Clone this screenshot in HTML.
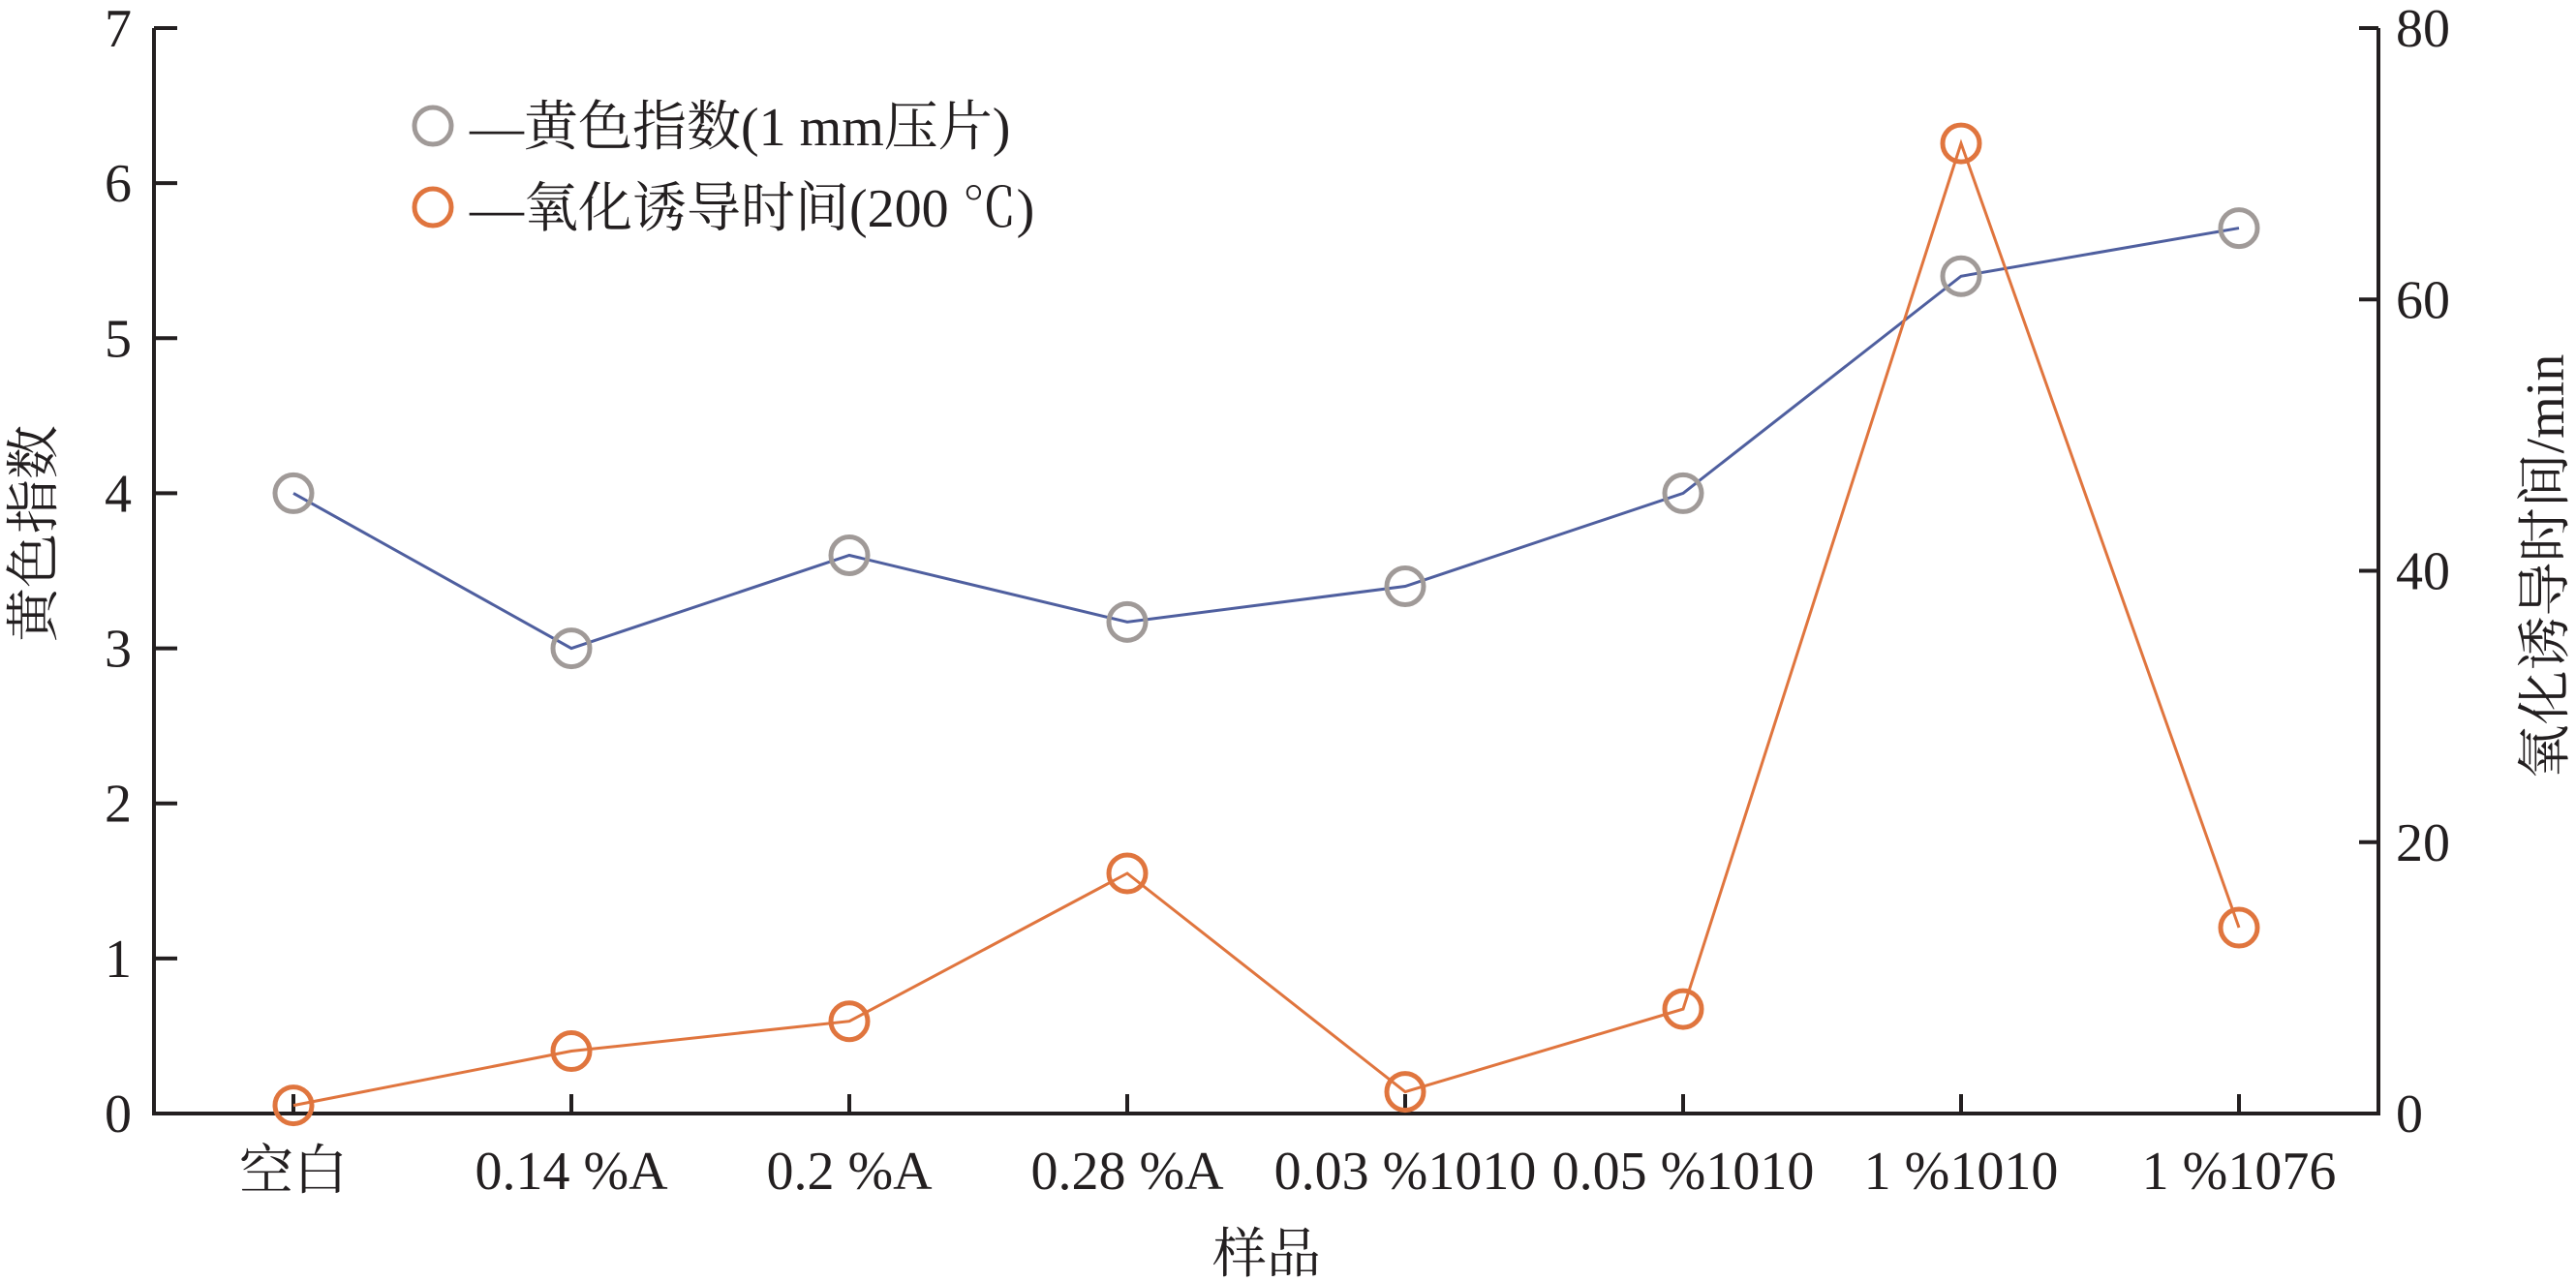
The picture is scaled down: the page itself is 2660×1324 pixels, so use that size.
<!DOCTYPE html>
<html><head><meta charset="utf-8"><style>
html,body{margin:0;padding:0;background:#fff}
svg{display:block}
text{font-family:"Liberation Serif","Noto Serif CJK SC","Noto Sans CJK SC",serif;fill:#231f20}
</style></head><body>
<svg id="chart" width="2660" height="1324" viewBox="0 0 2660 1324" xmlns="http://www.w3.org/2000/svg"></svg>
<script>
const categories=["空白","0.14 %A","0.2 %A","0.28 %A","0.03 %1010","0.05 %1010","1 %1010","1 %1076"];
const yellowIndex=[4.0,3.0,3.6,3.17,3.4,4.0,5.4,5.71];
const oitValues=[0.6,4.6,6.8,17.7,1.6,7.7,71.5,13.7];
const leftTicks=[0,1,2,3,4,5,6,7];
const rightTicks=[0,20,40,60,80];

const NS="http://www.w3.org/2000/svg";
const svg=document.getElementById('chart');
const L=159,R=2456,T=29,B=1150;
const x0=303,dx=287;
function xs(i){return x0+i*dx;}
function yl(v){return B-(v/7)*(B-T);}
function yr(v){return B-(v/80)*(B-T);}
function mk(tag,attrs,parent){const e=document.createElementNS(NS,tag);for(const k in attrs)e.setAttribute(k,attrs[k]);(parent||svg).appendChild(e);return e;}

// axes
let e=mk('path',{d:`M${L},${T} V${B} H${R} V${T}`,fill:'none',stroke:'#231f20','stroke-width':4});


leftTicks.forEach(v=>{
  const y=yl(v);
  let t=mk('line',{x1:L,x2:L+24,y1:y,y2:y,stroke:'#231f20','stroke-width':4});
  
  
  let l=mk('text',{x:136,y:y+19,'font-size':56,'text-anchor':'end'});
  l.textContent=v;
  
  
});
rightTicks.forEach(v=>{
  const y=yr(v);
  let t=mk('line',{x1:R-20,x2:R,y1:y,y2:y,stroke:'#231f20','stroke-width':4});
  
  
  let l=mk('text',{x:2474,y:y+19,'font-size':56,'text-anchor':'start'});
  l.textContent=v;
  
  
});
categories.forEach((c,i)=>{
  const x=xs(i);
  let t=mk('line',{x1:x,x2:x,y1:B-20,y2:B,stroke:'#231f20','stroke-width':4});
  
  
  let l=mk('text',{x:x,y:1228,'font-size':56,'text-anchor':'middle'});
  l.textContent=c;
  
  
});
let xt=mk('text',{x:1308,y:1314,'font-size':56,'text-anchor':'middle'});
xt.textContent='样品';


let ylt=mk('text',{x:0,y:0,'font-size':56,'text-anchor':'middle',transform:'translate(54,551) rotate(-90)'});
ylt.textContent='黄色指数';


let yrt=mk('text',{x:0,y:0,'font-size':56,'text-anchor':'middle',transform:'translate(2647,585) rotate(-90)'});
yrt.textContent='氧化诱导时间/min';



// series
let p1=mk('polyline',{points:yellowIndex.map((v,i)=>xs(i)+','+yl(v)).join(' '),fill:'none',stroke:'#4f5f9f','stroke-width':3});


let p2=mk('polyline',{points:oitValues.map((v,i)=>xs(i)+','+yr(v)).join(' '),fill:'none',stroke:'#e0753e','stroke-width':3});


yellowIndex.forEach((v,i)=>{
  let c=mk('circle',{cx:xs(i),cy:yl(v),r:19,fill:'none',stroke:'#a09a98','stroke-width':5});
  
  
});
oitValues.forEach((v,i)=>{
  let c=mk('circle',{cx:xs(i),cy:yr(v),r:19,fill:'none',stroke:'#e0753e','stroke-width':5});
  
  
});

// legend
let lc1=mk('circle',{cx:447,cy:130,r:19,fill:'none',stroke:'#a09a98','stroke-width':5});


let lt1=mk('text',{x:485,y:150,'font-size':56});
lt1.textContent='—黄色指数(1 mm压片)';


let lc2=mk('circle',{cx:447,cy:214,r:19,fill:'none',stroke:'#e0753e','stroke-width':5});


let lt2=mk('text',{x:485,y:234,'font-size':56});
lt2.textContent='—氧化诱导时间(200 ℃)';


</script>
</body></html>
